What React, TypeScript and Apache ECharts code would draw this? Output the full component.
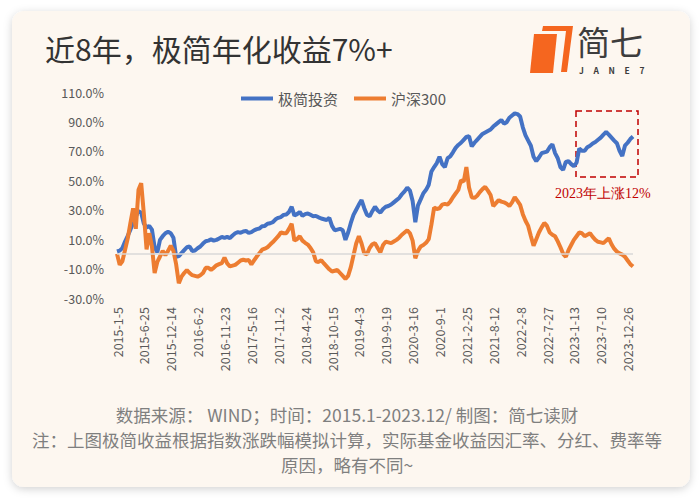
import { useEffect, useRef } from 'react';
import * as echarts from 'echarts';

const dateLabels = [
  '2015-1-5', '2015-6-25', '2015-12-14', '2016-6-2', '2016-11-23',
  '2017-5-16', '2017-11-2', '2018-4-24', '2018-10-15', '2019-4-3',
  '2019-9-19', '2020-3-16', '2020-9-1', '2021-2-25', '2021-8-12',
  '2022-2-8', '2022-7-27', '2023-1-13', '2023-7-10', '2023-12-26',
];

// 10 readings between two labelled dates
const stepsPerLabel = 10;

const jianjian = [
  1.6, 2.2, 3.9, 8.4, 12.3, 16.5, 21, 25.4, 29, 28,
  20.5, 18, 19, 16.5, 4.5, 1, 9.5, 12, 14, 15,
  14, 11, -2, -1.5, 0.5, 2.5, 4.5, 5, 2, 2.3,
  3.8, 5, 7, 8.6, 9, 9.8, 9, 9.5, 10.5, 11.5,
  10.8, 11.5, 10.7, 12.5, 14, 14.8, 14.3, 15.2, 15.6, 14.2,
  14.8, 16, 16.8, 17.2, 18.8, 19, 20.5, 20.8, 21.5, 23.5,
  24.5, 25, 26.5, 26.8, 28.5, 32, 26, 27, 28.5, 25.8,
  27, 27.5, 26.5, 25.5, 25.8, 24.8, 24, 23.5, 23, 24.5,
  19, 16, 16.5, 17, 16, 9.5, 14.5, 21, 26.5, 30,
  33.5, 36.5, 31, 26.5, 25.5, 29, 32, 29.5, 28, 30.5,
  32, 32.5, 33.5, 35, 36.5, 38, 40.5, 42.5, 45, 43,
  36, 21.5, 33, 37, 41.2, 43.5, 47, 56, 59, 61.7,
  66, 61, 59, 65, 66.2, 69, 72, 74, 75.5, 77.5,
  79.5, 80, 73, 75.5, 77.5, 79.5, 81.5, 82.5, 83.5, 84.5,
  86.5, 88, 89.5, 91, 88.5, 89.5, 92.5, 94, 95.5, 95,
  93.3, 86, 80.5, 77, 73.5, 66, 63, 65.5, 68.4, 69,
  69.5, 72.5, 74.5, 68.5, 65, 59, 57, 62.5, 63, 61,
  59.5, 62, 71.5, 70, 70, 72.5, 73.5, 75, 76, 77.5,
  79, 81, 82.8, 81, 79, 77, 75.2, 70, 66.5, 73.5,
  75.5, 78, 79.7,
];

const hs300 = [
  0, -7.5, -5, 2.7, 10.5, 21, 31, 17, 43.5, 48,
  27, 3, 14, 5, -13, -5.5, -1.8, 2, -1, 2,
  5.5, 2, -7, -20, -15.5, -13, -11, -13, -14.5, -15,
  -15.5, -14.5, -13, -9.5, -9.5, -10.8, -9.5, -7.8, -7, -6.3,
  -2.5, -6.5, -8.5, -8, -7.5, -6, -4.5, -4, -4.5, -4.2,
  -7.2, -4.5, -1.8, 0.5, 2.8, 3.5, 4.5, 6.3, 8, 10,
  12, 14.5, 14, 14, 17, 20.5, 9, 10, 12, 9,
  7.5, 6.3, 4, 1, -5, -5.5, -4.3, -6.5, -8.5, -10.5,
  -12, -11.5, -11, -13, -15, -17, -15, -9, -1, 7,
  12, 7, 0.3, -0.3, 4, 6.5, 7.3, 4, 1, 6,
  8.2, 7.8, 7.3, 8.4, 9.5, 11, 13, 14.5, 16, 14,
  9, -3, 2, 5, 6, 7.5, 10, 20, 31.5, 30.5,
  31, 33.5, 34, 33.5, 35.5, 38.5, 41, 43.5, 50, 49,
  59, 45, 38.5, 38, 39.5, 42, 44, 45.5, 43, 40,
  32.5, 34.5, 36.5, 35.5, 35, 34, 32.5, 35, 38.5, 36,
  33.3, 27, 22.5, 19, 12, 5.5, 10, 14.5, 18, 21,
  19, 14.5, 13, 12, 8.5, 4.5, 0, -2, 2.5, 6,
  9.5, 12, 14.5, 14, 12, 13, 14, 11.5, 9.5, 8.2,
  7.8, 7.3, 9, 10.5, 6.5, 3.5, 1.5, 0.3, -0.5, -2,
  -4.5, -7, -8.6,
];

const seriesNames = ['极简投资', '沪深300'];
const colors = ['#4472C4', '#ED7D31'];

const title = '近8年，极简年化收益7%+';
const note = '2023年上涨12%';
const footer = [
  '数据来源： WIND；时间：2015.1-2023.12/ 制图：简七读财',
  '注：上图极简收益根据指数涨跌幅模拟计算，实际基金收益因汇率、分红、费率等',
  '原因，略有不同~',
];

const FONT = '"Noto Sans CJK SC", "Noto Sans", sans-serif';

export default function App() {
  const chartRef = useRef<HTMLDivElement>(null);

  useEffect(() => {
    if (!chartRef.current) return;
    document.body.style.margin = '0';
    document.body.style.background = '#ffffff';

    const chart = echarts.init(chartRef.current, null, { renderer: 'svg' });

    const toPoints = (arr: number[]) => arr.map((v, i) => [i / stepsPerLabel, v]);

    const logoLetters = ['J', 'A', 'N', 'E', '7'];

    const option: echarts.EChartsOption = {
      animation: false,
      backgroundColor: '#ffffff',
      textStyle: { fontFamily: FONT },
      grid: { left: 117, top: 92, width: 516, height: 206 },
      legend: {
        data: seriesNames,
        left: 236,
        top: 86,
        icon: 'rect',
        itemWidth: 32,
        itemHeight: 4,
        itemGap: 16,
        textStyle: { fontSize: 15, color: '#595959', fontFamily: FONT },
      },
      xAxis: {
        type: 'value',
        min: 0,
        max: 19.2,
        interval: 1,
        axisLine: { show: false },
        axisTick: { show: false },
        splitLine: { show: false },
        axisLabel: {
          rotate: 90,
          margin: 9,
          fontSize: 12.5,
          color: '#595959',
          showMaxLabel: false,
          formatter: (v: number) => dateLabels[Math.round(v)] ?? '',
        },
      },
      yAxis: {
        type: 'value',
        min: -30,
        max: 110,
        interval: 20,
        axisLine: { show: false },
        axisTick: { show: false },
        splitLine: { show: false },
        axisLabel: {
          margin: 13,
          fontSize: 12.5,
          color: '#595959',
          formatter: (v: number) => v.toFixed(1) + '%',
        },
      },
      series: [
        {
          name: seriesNames[0],
          type: 'line',
          data: toPoints(jianjian),
          showSymbol: false,
          color: colors[0],
          lineStyle: { width: 4, color: colors[0] },
          markLine: {
            silent: true,
            symbol: ['none', 'none'],
            label: { show: false },
            lineStyle: { color: '#D9D9D9', width: 1.5, type: 'solid' },
            data: [{ yAxis: 0 }],
          },
        },
        {
          name: seriesNames[1],
          type: 'line',
          data: toPoints(hs300),
          showSymbol: false,
          color: colors[1],
          lineStyle: { width: 4, color: colors[1] },
        },
      ],
      graphic: [
        {
          type: 'rect',
          z: -10,
          shape: { x: 12, y: 11, width: 678, height: 476, r: 12 },
          style: {
            fill: '#FDF7F0',
            shadowBlur: 8,
            shadowColor: 'rgba(0,0,0,0.18)',
            shadowOffsetY: 2,
          },
        },
        {
          type: 'text',
          x: 45,
          y: 48,
          style: {
            text: title,
            fontSize: 30,
            fontFamily: FONT,
            fill: '#333333',
            verticalAlign: 'middle',
          },
        },
        // logo
        {
          type: 'polygon',
          shape: { points: [[543, 26], [573, 26], [567, 72], [561, 72], [566, 31], [542, 31]] },
          style: { fill: '#F5661F' },
        },
        {
          type: 'polygon',
          shape: { points: [[534, 34], [557, 34], [553, 73], [530, 73]] },
          style: { fill: '#F5661F' },
        },
        {
          type: 'text',
          x: 577,
          y: 41,
          style: {
            text: '简七',
            fontSize: 33,
            lineHeight: 33,
            fontFamily: FONT,
            fill: '#3d3d3d',
            verticalAlign: 'middle',
          },
        },
        {
          type: 'text',
          x: 579,
          y: 70,
          style: {
            text: logoLetters.join('     '),
            fontSize: 8.5,
            lineHeight: 9,
            fontWeight: 'bold',
            fontFamily: FONT,
            fill: '#3d3d3d',
            verticalAlign: 'middle',
          },
        },
        // 2023 annotation
        {
          type: 'rect',
          shape: { x: 576, y: 111, width: 62, height: 66 },
          style: {
            fill: 'none',
            stroke: '#C00000',
            lineWidth: 1.5,
            lineDash: [6, 4],
          },
        },
        {
          type: 'text',
          x: 555,
          y: 193,
          style: {
            text: note,
            fontSize: 14,
            fontFamily: '"Liberation Serif", "DejaVu Serif", serif',
            fill: '#C00000',
            verticalAlign: 'middle',
          },
        },
        ...footer.map((t, i) => ({
          type: 'text' as const,
          x: 347,
          y: 414 + i * 25,
          style: {
            text: t,
            fontSize: 17.5,
            fontFamily: FONT,
            fill: '#7f7f7f',
            align: 'center' as const,
            verticalAlign: 'middle' as const,
          },
        })),
      ],
    };

    chart.setOption(option);

    return () => {
      chart.dispose();
    };
  }, []);

  return <div ref={chartRef} style={{ width: 700, height: 498 }} />;
}
